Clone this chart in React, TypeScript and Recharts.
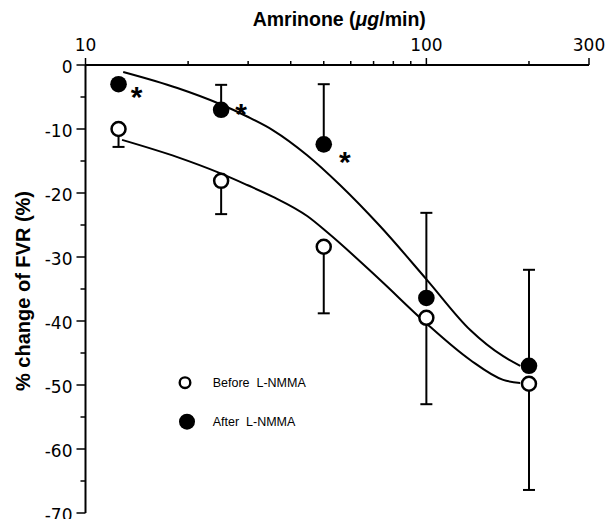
import { ComposedChart, Line, Scatter, ErrorBar, XAxis, YAxis, Legend, Label } from 'recharts';

// doses (ug/min) and group results
const doses = [12.5, 25, 50, 100, 200];
const beforeMean = [-10.0, -18.1, -28.4, -39.5, -49.8];
const beforeSem = [2.8, 5.2, 10.4, 13.5, 16.6];
const afterMean = [-3.0, -7.0, -12.4, -36.4, -47.0];
const afterSem = [0, 3.9, 9.4, 13.3, 15.0];
const afterSignificant = [true, true, true, false, false];

// fitted curves
const beforeCurveDose = [12.8, 18.6, 24.8, 29.8, 35.5, 44.7, 51.5, 73.2, 99.6, 134.5, 168, 188.5];
const beforeCurveValue = [-11.7, -14.4, -16.9, -18.75, -20.6, -23.6, -26.25, -33.6, -40.3, -46.1, -49.2, -49.7];
const afterCurveDose = [12.9, 18.6, 24.8, 29.8, 35.5, 44.7, 55.8, 73.2, 100.5, 134.5, 168, 188.5];
const afterCurveValue = [-1.1, -3.6, -6.1, -8.05, -10.2, -14.1, -18.75, -25.2, -33.6, -41.4, -45.5, -47.0];

const xTicks = [10, 20, 30, 40, 50, 60, 70, 80, 90, 100, 200, 300];
const xLabelled = [10, 100, 300];
const yTicks = [0, -5, -10, -15, -20, -25, -30, -35, -40, -45, -50, -55, -60, -65, -70];

const legendItems = ['Before  L-NMMA', 'After  L-NMMA'];

// asterisk placement next to the filled dots (px)
const STAR_DX = [18, 20, 21, 0, 0];
const STAR_DY = [6, -3, 11, 0, 0];

const SANS = '"Liberation Sans", Arial, sans-serif';
const TICK_FONT = '"DejaVu Sans", sans-serif';

const XTick = (props: any) => {
  const { x, y, payload } = props;
  const major = xLabelled.includes(payload.value);
  return (
    <g>
      <line x1={x} y1={y} x2={x} y2={y - (major ? 7 : 4)} stroke="#000" strokeWidth={1.5} />
      {major && (
        <text x={x} y={y - 14} textAnchor="middle" fontFamily={TICK_FONT} fontSize={17} fill="#000">
          {payload.value}
        </text>
      )}
    </g>
  );
};

const YTick = (props: any) => {
  const { x, y, payload } = props;
  const major = payload.value % 10 === 0;
  return (
    <g>
      <line x1={x - (major ? 9 : 5)} y1={y} x2={x} y2={y} stroke="#000" strokeWidth={1.5} />
      {major && (
        <text x={x - 13} y={y + 8} textAnchor="end" fontFamily={TICK_FONT} fontSize={17} fill="#000">
          {payload.value}
        </text>
      )}
    </g>
  );
};

const OpenDot = (props: any) => (
  <circle cx={props.cx} cy={props.cy} r={7} fill="#fff" stroke="#000" strokeWidth={2.5} />
);

const FilledDot = (props: any) => {
  const { cx, cy, payload } = props;
  const i = payload.idx;
  return (
    <g>
      <circle cx={cx} cy={cy} r={8.3} fill="#000" />
      {payload.sig && (
        <text x={cx + STAR_DX[i]} y={cy + STAR_DY[i] + 17} textAnchor="middle" fontFamily={SANS} fontWeight="bold" fontSize={30} fill="#000">
          *
        </text>
      )}
    </g>
  );
};

const renderXTitle = (props: any) => {
  const vb = props.viewBox;
  return (
    <text x={vb.x + vb.width / 2 + 2} y={26} textAnchor="middle" fontFamily={SANS} fontWeight="bold" fontSize={19.5} fill="#000">
      Amrinone (<tspan fontStyle="italic">μg</tspan>/min)
    </text>
  );
};

const renderYTitle = (props: any) => {
  const vb = props.viewBox;
  const cy = vb.y + vb.height / 2 + 2;
  return (
    <text transform={`translate(23, ${cy}) rotate(-90)`} textAnchor="middle" dominantBaseline="central" fontFamily={SANS} fontWeight="bold" fontSize={20} fill="#000">
      % change of FVR (%)
    </text>
  );
};

const LegendBox = () => (
  <svg width={170} height={70}>
    <circle cx={25} cy={17.7} r={5.3} fill="#fff" stroke="#000" strokeWidth={2.4} />
    <text x={52.7} y={22} fontFamily={SANS} fontSize={12.5} fill="#000" style={{ whiteSpace: 'pre' }}>{legendItems[0]}</text>
    <circle cx={27} cy={56.7} r={8} fill="#000" />
    <text x={52.7} y={61} fontFamily={SANS} fontSize={12.5} fill="#000" style={{ whiteSpace: 'pre' }}>{legendItems[1]}</text>
  </svg>
);

export default function App() {
  const beforeData = doses.map((d, i) => ({ dose: d, value: beforeMean[i], err: [beforeSem[i], 0] }));
  const afterData = doses.map((d, i) => ({ dose: d, value: afterMean[i], err: [0, afterSem[i]], sig: afterSignificant[i], idx: i }));
  const beforeCurve = beforeCurveDose.map((d, i) => ({ dose: d, value: beforeCurveValue[i] }));
  const afterCurve = afterCurveDose.map((d, i) => ({ dose: d, value: afterCurveValue[i] }));

  return (
    <div style={{ position: 'absolute', left: 0, top: 0, width: 616, height: 519, background: '#fff' }}>
      <ComposedChart width={616} height={519} margin={{ top: 0, right: 27, bottom: 6, left: 0 }}>
        <XAxis
          dataKey="dose"
          type="number"
          scale="log"
          domain={[10, 300]}
          orientation="top"
          height={65}
          ticks={xTicks}
          interval={0}
          tickSize={0}
          tickMargin={0}
          tickLine={false}
          axisLine={{ stroke: '#000', strokeWidth: 2 }}
          tick={<XTick />}
        >
          <Label content={renderXTitle} />
        </XAxis>
        <YAxis
          type="number"
          domain={[-70, 0]}
          width={85.5}
          ticks={yTicks}
          interval={0}
          tickSize={0}
          tickMargin={0}
          tickLine={false}
          axisLine={{ stroke: '#000', strokeWidth: 2 }}
          tick={<YTick />}
        >
          <Label content={renderYTitle} />
        </YAxis>
        <Line data={beforeCurve} dataKey="value" type="monotone" stroke="#000" strokeWidth={2} dot={false} activeDot={false} isAnimationActive={false} />
        <Line data={afterCurve} dataKey="value" type="monotone" stroke="#000" strokeWidth={2} dot={false} activeDot={false} isAnimationActive={false} />
        <Scatter data={beforeData} dataKey="value" shape={<OpenDot />} isAnimationActive={false}>
          <ErrorBar dataKey="err" direction="y" width={6} stroke="#000" strokeWidth={2} />
        </Scatter>
        <Scatter data={afterData} dataKey="value" shape={<FilledDot />} isAnimationActive={false}>
          <ErrorBar dataKey="err" direction="y" width={6} stroke="#000" strokeWidth={2} />
        </Scatter>
        <Legend
          layout="horizontal"
          verticalAlign="middle"
          align="center"
          wrapperStyle={{ left: 160, top: 365, width: 170, height: 70 }}
          content={() => <LegendBox />}
        />
      </ComposedChart>
    </div>
  );
}
